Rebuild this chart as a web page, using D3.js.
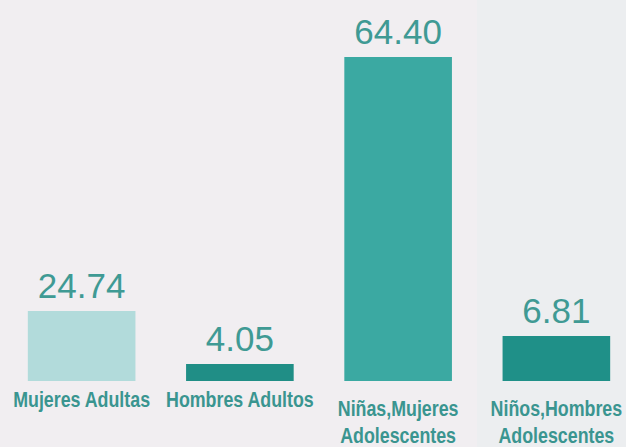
<!DOCTYPE html>
<html>
<head>
<meta charset="utf-8">
<script src="https://cdn.jsdelivr.net/npm/d3@7"></script>
<style>
  html, body { margin: 0; padding: 0; background: #f1eef1; }
  svg { display: block; }
  .value { font-family: "Liberation Sans", Arial, sans-serif; font-size: 35px; fill: #3f9a94; }
  .cat { font-family: "Liberation Sans", Arial, sans-serif; font-weight: bold; font-size: 22px; fill: #3a9590; }
</style>
</head>
<body>
<svg id="chart"></svg>
<script>
const WIDTH = 626;
const HEIGHT = 447;

// chart data
const categories = [
  ["Mujeres Adultas"],
  ["Hombres Adultos"],
  ["Niñas,Mujeres", "Adolescentes"],
  ["Niños,Hombres", "Adolescentes"]
];
const values = [24.74, 4.05, 64.40, 6.81];
const valueLabels = ["24.74", "4.05", "64.40", "6.81"];

const barColors = ["#b2dbdb", "#208e86", "#3ba9a2", "#1f9088"];
const BASELINE = 381;
const NARROW = 0.81; // condensed look, no narrow font installed

const svg = d3.select("#chart")
  .attr("width", WIDTH)
  .attr("height", HEIGHT);

svg.append("rect")
  .attr("width", WIDTH).attr("height", HEIGHT)
  .attr("fill", "#f1eef1");

// slightly lighter panel on the right side of the scan
svg.append("rect")
  .attr("x", 477).attr("y", 0)
  .attr("width", WIDTH - 477).attr("height", HEIGHT)
  .attr("fill", "#eceef0");

const x = d3.scaleBand()
  .domain(d3.range(values.length))
  .range([12, WIDTH])
  .paddingInner(0.32)
  .paddingOuter(0.1);

// the printed bars are not drawn to a single linear ratio,
// so the scale follows the heights the original used for each value
const y = d3.scaleLinear()
  .domain([0].concat(d3.sort(values)))
  .range([BASELINE, 364, 336, 311, 57]);

svg.append("g")
  .selectAll("rect")
  .data(values)
  .join("rect")
  .attr("x", (d, i) => x(i))
  .attr("y", d => y(d))
  .attr("width", x.bandwidth())
  .attr("height", d => BASELINE - y(d))
  .attr("fill", (d, i) => barColors[i]);

svg.append("g")
  .selectAll("text")
  .data(values)
  .join("text")
  .attr("class", "value")
  .attr("text-anchor", "middle")
  .attr("x", (d, i) => x(i) + x.bandwidth() / 2)
  .attr("y", d => y(d) - 13)
  .text((d, i) => valueLabels[i]);

const cat = svg.append("g")
  .selectAll("text")
  .data(categories)
  .join("text")
  .attr("class", "cat")
  .attr("text-anchor", "middle")
  .attr("transform", (d, i) =>
    `translate(${x(i) + x.bandwidth() / 2},${d.length > 1 ? 416 : 407}) scale(${NARROW},1)`);

cat.selectAll("tspan")
  .data(d => d)
  .join("tspan")
  .attr("x", 0)
  .attr("dy", (d, i) => i === 0 ? 0 : 27)
  .text(d => d);
</script>
</body>
</html>
